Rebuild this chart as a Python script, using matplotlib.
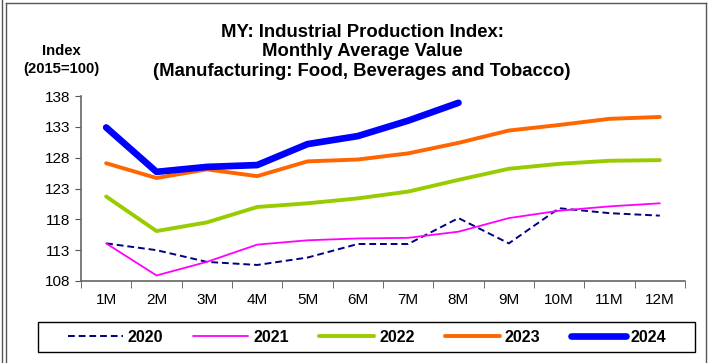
import matplotlib
matplotlib.use("Agg")
import matplotlib.pyplot as plt
from matplotlib.lines import Line2D
from matplotlib.patches import Rectangle

plt.rcParams['font.family'] = ['Liberation Sans', 'DejaVu Sans']

months = ['1M', '2M', '3M', '4M', '5M', '6M', '7M', '8M', '9M', '10M', '11M', '12M']
v2020 = [114.1, 113.0, 111.1, 110.6, 111.8, 114.0, 114.0, 118.2, 114.1, 119.8, 119.0, 118.6]
v2021 = [114.1, 108.9, 111.1, 113.9, 114.6, 114.9, 115.0, 116.0, 118.2, 119.4, 120.1, 120.6]
v2022 = [121.7, 116.1, 117.5, 120.0, 120.6, 121.4, 122.5, 124.4, 126.2, 127.0, 127.5, 127.6]
v2023 = [127.1, 124.7, 126.1, 125.0, 127.4, 127.7, 128.7, 130.4, 132.4, 133.3, 134.3, 134.6]
v2024 = [132.9, 125.7, 126.5, 126.8, 130.2, 131.5, 134.0, 136.9]
yticks = [108, 113, 118, 123, 128, 133, 138]

W, H = 712, 363
fig = plt.figure(figsize=(W / 100, H / 100), dpi=100)
ax = fig.add_axes([81 / W, (H - 281) / H, 604 / W, 185 / H])

x = list(range(1, 13))
kw = dict(solid_joinstyle='round', solid_capstyle='round')
ax.plot(x, v2020, color='#000080', lw=1.4, ls=(0, (3.5, 2)), label='2020')
ax.plot(x, v2021, color='#FF00FF', lw=1.3, label='2021', **kw)
ax.plot(x, v2022, color='#99CC00', lw=2.8, label='2022', **kw)
ax.plot(x, v2023, color='#FF6600', lw=2.8, label='2023', **kw)
ax.plot(x[:len(v2024)], v2024, color='#0000FF', lw=4.8, label='2024', **kw)

ax.set_xlim(0.5, 12.5)
ax.set_ylim(108, 138)
ax.set_yticks(yticks)
ax.set_xticks(x)
ax.set_xticklabels(months)
ax.set_xticks([i + 0.5 for i in range(0, 13)], minor=True)
ax.tick_params(axis='x', which='major', length=0, pad=9, labelsize=11)
ax.tick_params(axis='x', which='minor', length=5, color='#555555', direction='out')
ax.tick_params(axis='y', length=4, color='#555555', pad=4, labelsize=11)
for s in ['top', 'right']:
    ax.spines[s].set_visible(False)
for s in ['left', 'bottom']:
    ax.spines[s].set_color('#666666')
    ax.spines[s].set_linewidth(1.2)

fig.text(362 / W, 1 - 52 / H,
         'MY: Industrial Production Index:\nMonthly Average Value\n'
         '(Manufacturing: Food, Beverages and Tobacco)',
         ha='center', va='center', fontsize=13.3, fontweight='bold',
         linespacing=1.2)
fig.text(61 / W, 1 - 60 / H, 'Index\n(2015=100)', ha='center',
         va='center', fontsize=10.7, fontweight='bold', linespacing=1.35)

# legend box
fig.add_artist(Rectangle((38 / W, 1 - 352 / H), 657 / W, 30 / H,
                         transform=fig.transFigure, fill=False,
                         edgecolor='black', lw=1.0))
handles, labels = ax.get_legend_handles_labels()
leg = fig.legend(handles, labels, loc='center', ncol=5,
                 bbox_to_anchor=(367 / W, 1 - 337 / H),
                 frameon=False, handlelength=3.45, columnspacing=1.9,
                 handletextpad=0.3, prop={'weight': 'bold', 'size': 11.5})

# outer frame lines
fig.add_artist(Line2D([2 / W, 2 / W], [0, 1], color='#555555', lw=1))
fig.add_artist(Line2D([6 / W, 6 / W], [0, 1 - 3 / H], color='#555555', lw=1))
fig.add_artist(Line2D([6 / W, 706 / W], [1 - 3 / H, 1 - 3 / H], color='#555555', lw=1))
fig.add_artist(Line2D([706 / W, 706 / W], [0, 1 - 3 / H], color='#555555', lw=1))

fig.savefig('out.png', dpi=100)
